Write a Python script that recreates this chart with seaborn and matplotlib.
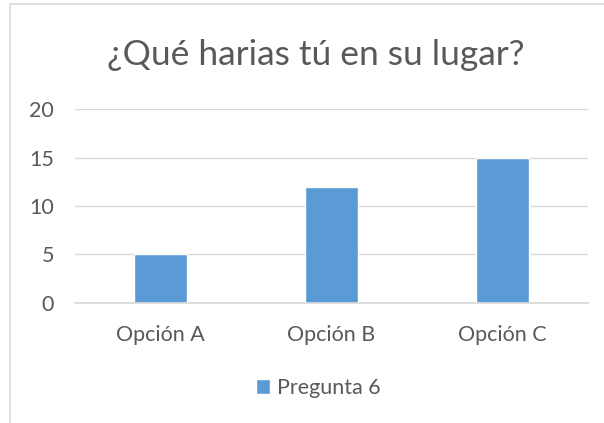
import matplotlib
matplotlib.use('Agg')
import matplotlib.pyplot as plt
import pandas as pd
import seaborn as sns

# data
categorias = ['Opción A', 'Opción B', 'Opción C']
valores = [5, 12, 15]
serie = 'Pregunta 6'

data = pd.DataFrame({'cat': categorias, 'val': valores, 'serie': serie})

sns.set_theme(style='white')
plt.rcParams['font.family'] = ['Lato', 'DejaVu Sans']

gris = '#595959'
azul = '#5B9BD5'

fig = plt.figure(figsize=(6.04, 4.23), dpi=100)
ax = fig.add_axes([0.124, 0.284, 0.850, 0.458])

sns.barplot(data=data, x='cat', y='val', hue='serie', palette=[azul],
            width=0.31, saturation=1, ax=ax, legend=True)

ax.set_ylim(0, 20)
ax.set_yticks([0, 5, 10, 15, 20])
ax.set_xlabel('')
ax.set_ylabel('')
ax.yaxis.grid(True, color='#D9D9D9', linewidth=1)
ax.set_axisbelow(True)
for s in ['top', 'right', 'left']:
    ax.spines[s].set_visible(False)
ax.spines['bottom'].set_color('#D9D9D9')
ax.tick_params(axis='both', length=0, labelsize=15.5, labelcolor=gris)
ax.tick_params(axis='x', pad=16)
ax.tick_params(axis='y', pad=15)

ax.get_legend().remove()
h, l = ax.get_legend_handles_labels()
fig.legend(h, l, loc='center', bbox_to_anchor=(0.527, 0.083), frameon=False,
           fontsize=15.5, labelcolor=gris, handlelength=0.65, handleheight=0.65,
           handletextpad=0.32)

fig.text(0.523, 0.87, '¿Qué harias tú en su lugar?', ha='center', va='center',
         fontsize=25.5, color=gris)

# chart frame
fig.patches.append(plt.Rectangle((0.017, -0.1), 0.99, 1.09, transform=fig.transFigure,
                                 fill=False, edgecolor='#D9D9D9', linewidth=1.2))

fig.savefig('out.png', dpi=100)
